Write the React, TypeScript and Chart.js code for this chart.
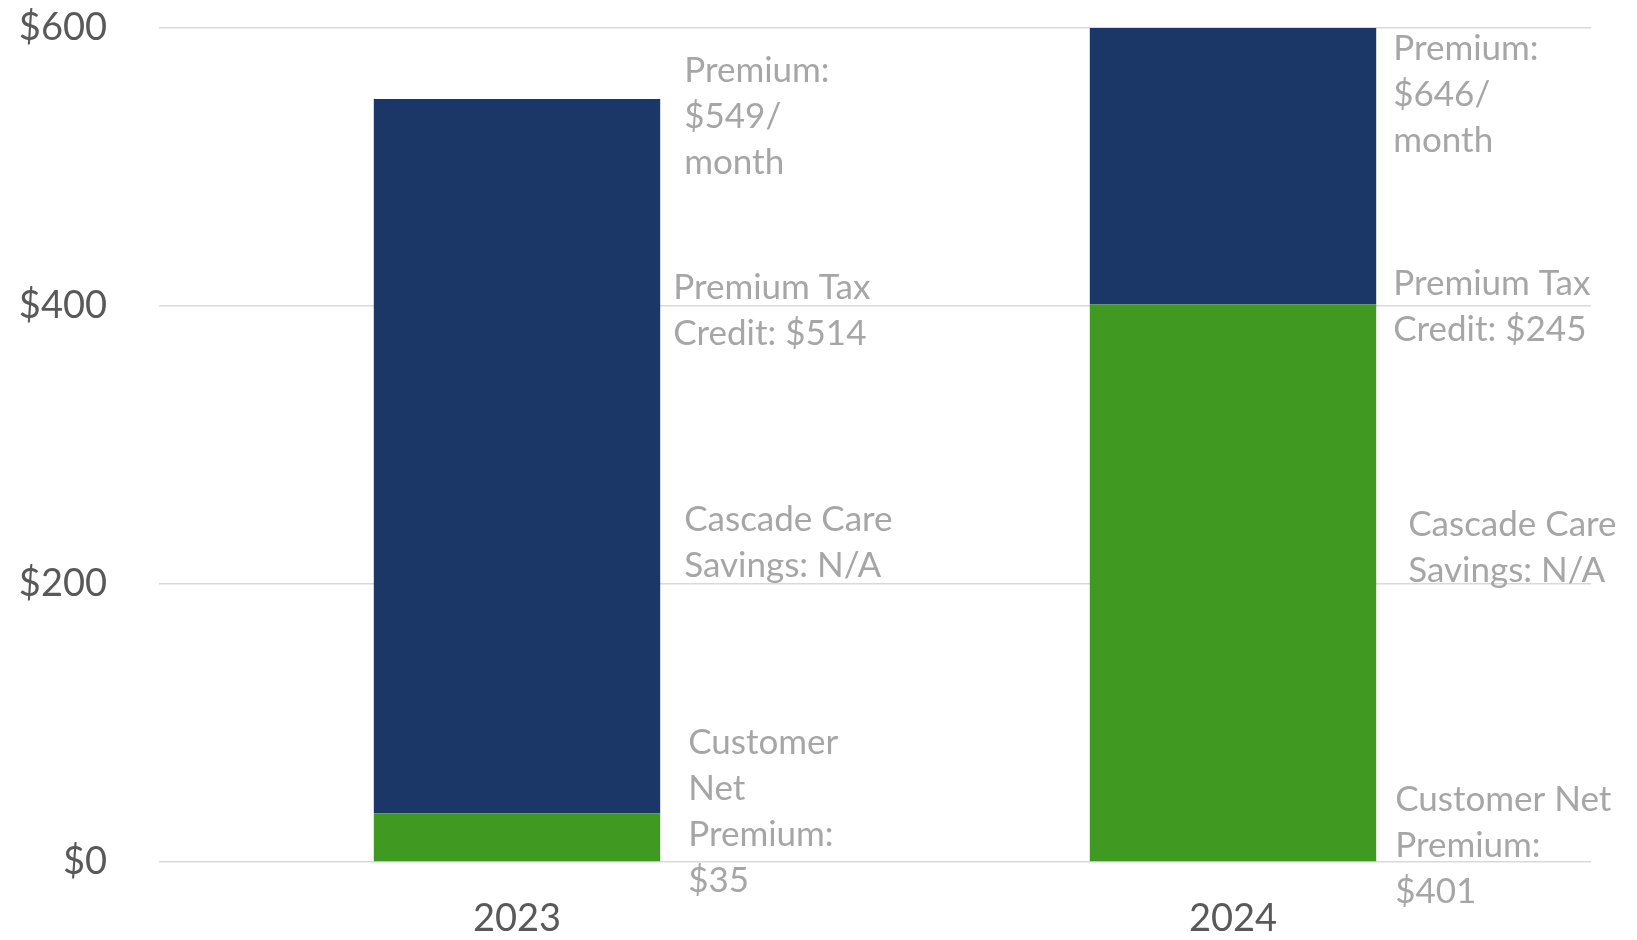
import React, { useEffect, useRef } from "react";
import { Chart, registerables } from "chart.js";

Chart.register(...registerables);

const years = ["2023", "2024"];
const netPremium = [35, 401];
const taxCredit = [514, 245];
const premiumTotal = [549, 646];
const cascadeSavings = ["N/A", "N/A"];
const yTickValues = [0, 200, 400, 600];

// annotation text blocks per year (line breaks as in the reference)
const annotationLines: string[][][] = [
  [
    ["Premium:", `$${premiumTotal[0]}/`, "month"],
    ["Premium Tax", `Credit: $${taxCredit[0]}`],
    ["Cascade Care", `Savings: ${cascadeSavings[0]}`],
    ["Customer", "Net", "Premium:", `$${netPremium[0]}`],
  ],
  [
    ["Premium:", `$${premiumTotal[1]}/`, "month"],
    ["Premium Tax", `Credit: $${taxCredit[1]}`],
    ["Cascade Care", `Savings: ${cascadeSavings[1]}`],
    ["Customer Net", "Premium:", `$${netPremium[1]}`],
  ],
];

// placement: anchor value (first line centre, in axis units) and x offset from bar's right edge
const annotationPlacement = [
  [
    { v: 569, dx: 24 },
    { v: 413, dx: 13 },
    { v: 246, dx: 24 },
    { v: 86, dx: 28 },
  ],
  [
    { v: 585, dx: 17 },
    { v: 416, dx: 17 },
    { v: 243, dx: 32 },
    { v: 45, dx: 19 },
  ],
];

const FONT = "Lato, 'Open Sans', sans-serif";

const annotationPlugin = {
  id: "sideAnnotations",
  afterDatasetsDraw(chart: any) {
    const ctx = chart.ctx;
    const yScale = chart.scales.y;
    const meta = chart.getDatasetMeta(0);
    ctx.save();
    ctx.fillStyle = "#A6A6A6";
    ctx.font = `35px ${FONT}`;
    ctx.textAlign = "left";
    ctx.textBaseline = "middle";
    const lineH = 46;
    annotationLines.forEach((blocks, i) => {
      const bar = meta.data[i];
      const right = bar.x + bar.width / 2;
      blocks.forEach((lines, j) => {
        const p = annotationPlacement[i][j];
        const y0 = yScale.getPixelForValue(p.v);
        lines.forEach((t, k) => {
          ctx.fillText(t, right + p.dx, y0 + k * lineH);
        });
      });
    });
    ctx.restore();
  },
};

export default function App() {
  const ref = useRef<HTMLCanvasElement | null>(null);
  useEffect(() => {
    document.body.style.margin = "0";
    const chart = new Chart(ref.current as HTMLCanvasElement, {
      type: "bar",
      data: {
        labels: years,
        datasets: [
          {
            label: "Customer Net Premium",
            data: netPremium,
            backgroundColor: "#409A22",
            barPercentage: 0.4,
            categoryPercentage: 1,
          },
          {
            label: "Premium Tax Credit",
            data: taxCredit,
            backgroundColor: "#1B3768",
            barPercentage: 0.4,
            categoryPercentage: 1,
          },
        ],
      },
      options: {
        responsive: false,
        animation: false,
        layout: { padding: { top: 28, right: 46, left: 0, bottom: 0 } },
        plugins: {
          legend: { display: false },
          tooltip: { enabled: false },
        },
        scales: {
          x: {
            stacked: true,
            grid: { display: false, drawTicks: false },
            border: { display: false },
            ticks: {
              color: "#595959",
              font: { family: FONT, size: 38 },
              padding: 34,
            },
            afterFit(scale: any) {
              scale.height = 78;
              scale.paddingLeft = 0;
              scale.paddingRight = 0;
            },
          },
          y: {
            stacked: true,
            min: 0,
            max: 600,
            afterBuildTicks(scale: any) {
              scale.ticks = yTickValues.map((v) => ({ value: v }));
            },
            grid: { color: "#D9D9D9", lineWidth: 1.5, drawTicks: false },
            border: { display: false },
            ticks: {
              color: "#595959",
              font: { family: FONT, size: 38 },
              padding: 52,
              callback: (v: any) => `$${v}`,
            },
            afterFit(scale: any) {
              scale.width = 159;
              scale.paddingTop = 0;
              scale.paddingBottom = 0;
            },
          },
        },
      },
      plugins: [annotationPlugin],
    } as any);
    return () => chart.destroy();
  }, []);
  return (
    <div style={{ position: "absolute", left: 0, top: 0, width: 1637, height: 940, background: "#fff" }}>
      <canvas ref={ref} width={1637} height={940} />
    </div>
  );
}
